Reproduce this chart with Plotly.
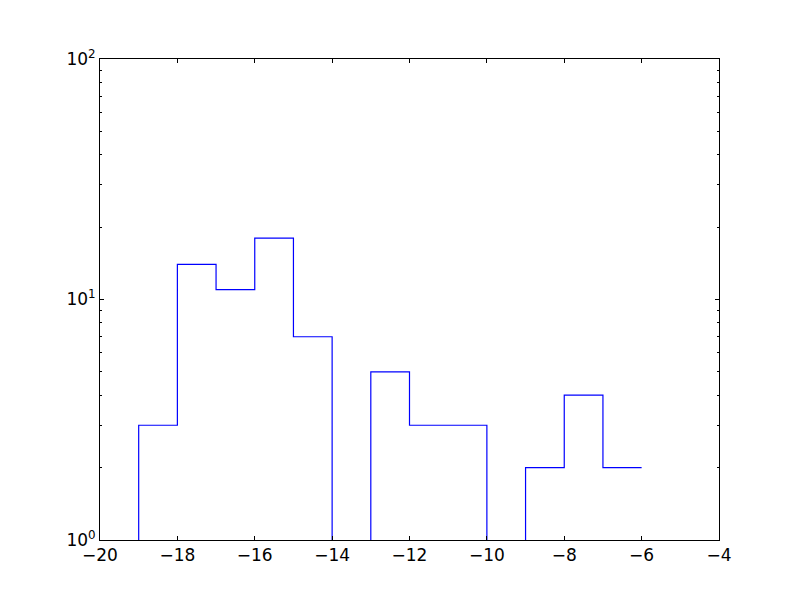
import plotly.graph_objects as go

bin_edges = [-19, -18, -17, -16, -15, -14, -13, -12, -11, -10, -9, -8, -7, -6]
counts = [3, 14, 11, 18, 7, 0, 5, 3, 3, 0, 2, 4, 2]
x_ticks = [-20, -18, -16, -14, -12, -10, -8, -6, -4]
y_ticks = [1, 10, 100]
y_tick_labels = ["10<sup>0</sup>", "10<sup>1</sup>", "10<sup>2</sup>"]

floor = 1e-3
plot_counts = [c if c > 0 else floor for c in counts]
xs = [bin_edges[0]] + bin_edges[:-1] + [bin_edges[-1]]
ys = [floor] + plot_counts + [plot_counts[-1]]

fig = go.Figure()
fig.add_trace(go.Scatter(x=xs, y=ys, mode="lines", line=dict(color="#0000ff", width=1.2, shape="hv"),
                         showlegend=False, hoverinfo="skip"))

minor_vals = [m * d for d in (1, 10) for m in range(2, 10)]
tick_font = dict(family="DejaVu Sans", size=17, color="black")
fig.update_layout(
    width=800, height=600,
    margin=dict(l=92, r=89, t=51, b=68),
    plot_bgcolor="white", paper_bgcolor="white",
    font=dict(family="DejaVu Sans", size=17, color="black"),
    xaxis=dict(range=[-20, -4], tickvals=x_ticks, ticktext=["\u2212" + str(-v) for v in x_ticks],
               tickfont=tick_font, automargin=False,
               ticks="inside", ticklen=4, tickcolor="black", showline=True, linecolor="black",
               linewidth=1, mirror="allticks", showgrid=False, zeroline=False),
    yaxis=dict(type="log", range=[0, 2], tickvals=y_ticks, ticktext=y_tick_labels,
               tickfont=tick_font, automargin=False,
               ticks="inside", ticklen=4, tickcolor="black", showline=True, linecolor="black",
               linewidth=1, mirror="allticks", showgrid=False, zeroline=False,
               minor=dict(tickvals=minor_vals, ticks="inside", ticklen=2, tickcolor="black", showgrid=False)),
)
fig.write_html("out.html")
